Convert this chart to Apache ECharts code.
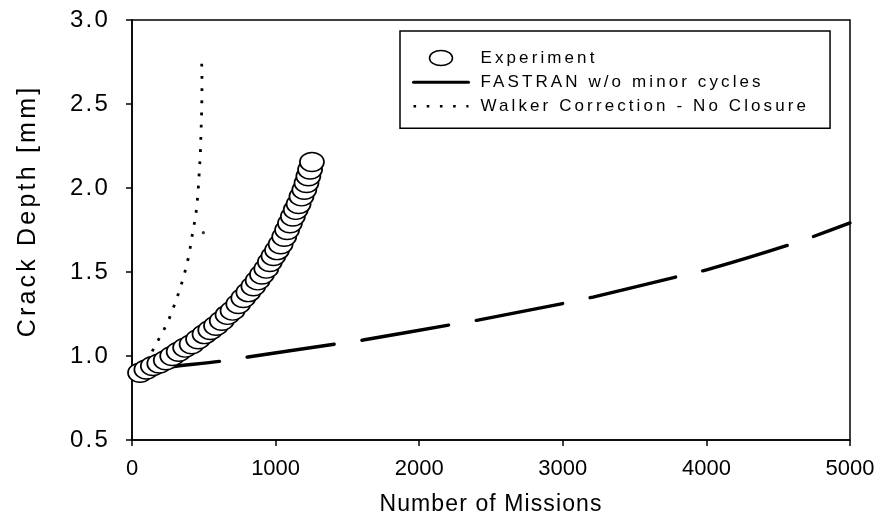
<!DOCTYPE html>
<html><head><meta charset="utf-8">
<script src="https://cdn.jsdelivr.net/npm/echarts@6/dist/echarts.min.js"></script>
<style>html,body{margin:0;padding:0;background:#fff}#c{width:888px;height:523px}</style>
</head><body><div id="c"></div>
<script>
// ---- data ----
const expMissions = [56,100,145,190,235,280,325,370,415,460,505,545,585,625,665,700,740,775,810,845,875,905,935,960,985,1010,1035,1060,1080,1100,1120,1140,1160,1180,1200,1215,1228,1240,1253];
const expDepth    = [0.90,0.92,0.94,0.955,0.975,1.00,1.025,1.05,1.07,1.10,1.13,1.155,1.18,1.21,1.245,1.27,1.31,1.345,1.38,1.415,1.45,1.485,1.52,1.56,1.595,1.63,1.665,1.71,1.75,1.79,1.83,1.87,1.905,1.95,1.99,2.03,2.07,2.11,2.155];

const fastranMissions = [0,265,627,808,1414,1609,2214,2409,3015,3210,3816,4025,4617,5000];
const fastranDepth    = [0.905,0.935,0.970,0.994,1.071,1.095,1.185,1.214,1.315,1.351,1.476,1.518,1.673,1.792];

const walkerMissions = [60,132,179,225,265,297,327,353,376,395,411,423,439,451,458,464,469,474,478,480,483,485,487,487,487,485];
const walkerDepth    = [0.90,1.014,1.089,1.161,1.234,1.308,1.381,1.452,1.524,1.595,1.671,1.740,1.810,1.885,1.957,2.028,2.103,2.174,2.246,2.321,2.393,2.464,2.536,2.607,2.680,2.752];
const walkerTailMissions = [497];
const walkerTailDepth    = [1.734];

const seriesNames = ['Experiment', 'FASTRAN w/o minor cycles', 'Walker Correction - No Closure'];
const xRange = [0, 5000, 1000];
const yRange = [0.5, 3.0, 0.5];

const FONT = '"Liberation Sans", Arial, sans-serif';

// letter spacing like the original typesetting (keyed by font size)
(function(){
  const P = CanvasRenderingContext2D.prototype;
  const f = P.fillText, m = P.measureText, s = P.strokeText;
  const spacing = {17: 3.1, 22: 0, 23: 1.1, 24: 2.2, 25: 3.2};
  function ls(ctx){
    const mm = /(\d+(?:\.\d+)?)px/.exec(ctx.font);
    const sz = mm ? Math.round(+mm[1]) : 12;
    try { ctx.letterSpacing = (spacing[sz] || 0) + 'px'; } catch(e){}
  }
  P.fillText = function(){ ls(this); return f.apply(this, arguments); };
  P.strokeText = function(){ ls(this); return s.apply(this, arguments); };
  P.measureText = function(){ ls(this); return m.apply(this, arguments); };
})();

const zip = (a, b) => a.map((v, i) => [v, b[i]]);
const ellipse = 'path://M12,0A12,9.5,0,1,1,12,19A12,9.5,0,1,1,12,0Z';
const legendEllipse = 'path://M11.5,0A11.5,7.5,0,1,1,11.5,15A11.5,7.5,0,1,1,11.5,0Z';

const chart = echarts.init(document.getElementById('c'), null, {renderer: 'canvas'});
chart.setOption({
  backgroundColor: '#fff',
  animation: false,
  color: ['#000'],
  textStyle: {fontFamily: FONT, color: '#000'},
  grid: {left: 132, right: 38, top: 20, bottom: 83, show: true, borderColor: '#000', borderWidth: 1.5, backgroundColor: 'transparent'},
  legend: {
    orient: 'vertical', left: 400, top: 31,
    padding: [17, 21, 12, 12], itemGap: 4, itemWidth: 55, itemHeight: 15,
    borderColor: '#000', borderWidth: 1.5, backgroundColor: '#fff',
    textStyle: {fontSize: 17, color: '#000', fontFamily: FONT, padding: [0, 0, 0, 7]},
    selectedMode: false,
    data: [
      {name: seriesNames[0], icon: legendEllipse, itemStyle: {color: '#fff', borderColor: '#000', borderWidth: 1.5}},
      {name: seriesNames[1], itemStyle: {color: 'transparent', borderWidth: 0, opacity: 0}, lineStyle: {type: 'solid', width: 3, color: '#000', opacity: 1}},
      {name: seriesNames[2], itemStyle: {color: 'transparent', borderWidth: 0, opacity: 0}, lineStyle: {type: [2.6, 10.6], width: 2.6, color: '#000', opacity: 1}}
    ]
  },
  xAxis: {
    type: 'value', min: xRange[0], max: xRange[1], interval: xRange[2],
    name: 'Number of Missions', nameLocation: 'middle', nameGap: 53,
    nameTextStyle: {fontSize: 23, color: '#000', fontFamily: FONT},
    axisLine: {show: true, lineStyle: {color: '#000', width: 1.5}},
    axisTick: {show: true, inside: false, length: 6, lineStyle: {color: '#000', width: 1.5}},
    axisLabel: {fontSize: 22, color: '#000', margin: 18, fontFamily: FONT, formatter: v => String(v)},
    splitLine: {show: false}
  },
  yAxis: {
    type: 'value', min: yRange[0], max: yRange[1], interval: yRange[2],
    name: 'Crack Depth [mm]', nameLocation: 'middle', nameGap: 90,
    nameTextStyle: {fontSize: 25, color: '#000', fontFamily: FONT, padding: [0, 0, 0, 38]},
    axisLine: {show: true, lineStyle: {color: '#000', width: 1.5}},
    axisTick: {show: true, inside: false, length: 6, lineStyle: {color: '#000', width: 1.5}},
    axisLabel: {fontSize: 24, color: '#000', margin: 22, fontFamily: FONT, formatter: v => v.toFixed(1)},
    splitLine: {show: false}
  },
  series: [
    {
      name: seriesNames[0], type: 'scatter', z: 5,
      data: zip(expMissions, expDepth),
      symbol: ellipse, symbolKeepAspect: false, symbolSize: [24, 19],
      itemStyle: {color: '#fff', borderColor: '#000', borderWidth: 1.6, opacity: 1},
      silent: true
    },
    {
      name: seriesNames[1], type: 'line', z: 3,
      data: zip(fastranMissions, fastranDepth),
      smooth: 0.3, showSymbol: false, symbol: 'none',
      itemStyle: {color: '#000'},
      lineStyle: {color: '#000', width: 3.4, type: [88, 28], dashOffset: 0, cap: 'round'},
      silent: true
    },
    {
      name: seriesNames[2], type: 'line', z: 3,
      data: zip(walkerMissions, walkerDepth),
      showSymbol: false, symbol: 'none',
      itemStyle: {color: '#000'},
      lineStyle: {color: '#000', width: 2.8, type: [2.8, 9.4], dashOffset: 0},
      silent: true
    },
    {
      name: 'walkerTail', type: 'scatter', z: 3,
      data: zip(walkerTailMissions, walkerTailDepth),
      symbol: 'circle', symbolSize: 3.2,
      itemStyle: {color: '#000'}, silent: true
    }
  ]
});
</script></body></html>
